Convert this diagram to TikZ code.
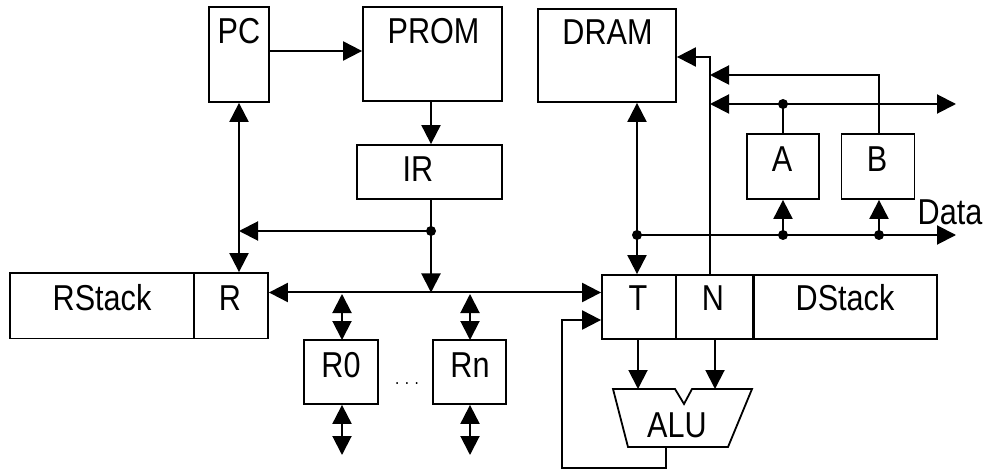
\documentclass[tikz,border=0pt]{standalone}
\usepackage{fontspec}
\setmainfont[FakeStretch=0.85]{Liberation Sans}
\usetikzlibrary{arrows.meta,calc}
\begin{document}
\begin{tikzpicture}[x=1pt,y=-1pt,
  box/.style={draw, line width=1.8pt, inner sep=0pt},
  lbl/.style={font=\fontsize{36}{40}\selectfont, inner sep=0pt, anchor=base},
  wire/.style={line width=2pt},
  arr/.style={wire, -{Triangle[length=19pt,width=19pt]}},
  darr/.style={wire, {Triangle[length=19pt,width=19pt]}-{Triangle[length=19pt,width=19pt]}},
  jdot/.style={circle, fill, inner sep=0pt, minimum size=10pt},
]
\useasboundingbox (0,0) rectangle (985,470);

% boxes
\node[box, minimum width=60pt, minimum height=95pt] (pc) at (239,54.5) {};
\node[box, minimum width=139pt, minimum height=94pt] (prom) at (432.5,54) {};
\node[box, minimum width=145pt, minimum height=54pt] (ir) at (429.5,172) {};
\node[box, minimum width=138pt, minimum height=93pt] (dram) at (607,55.5) {};
\node[box, minimum width=72pt, minimum height=65pt] (a) at (783,166.5) {};
\node[box, minimum width=73pt, minimum height=65pt] (b) at (878,166.5) {};
\node[box, minimum width=183.6pt, minimum height=65.5pt] (rstack) at (101.8,305.75) {};
\node[box, minimum width=74.4pt, minimum height=65.5pt] (r) at (230.8,305.75) {};
\node[box, minimum width=74pt, minimum height=64pt] (t) at (639,307) {};
\node[box, minimum width=77pt, minimum height=64pt] (n) at (714.5,307) {};
\node[box, minimum width=183pt, minimum height=64pt] (dstack) at (845.5,307) {};
\node[box, minimum width=74pt, minimum height=64pt] (r0) at (341,372) {};
\node[box, minimum width=73pt, minimum height=64pt] (rn) at (469.5,372) {};

% ALU trapezoid
\draw[line width=1.8pt] (613,389) -- (675,389) -- (684,404) -- (692,389) -- (752,389)
  -- (728,447) -- (628,447) -- cycle;
\coordinate (aluL) at (638,389);
\coordinate (aluR) at (715,389);
\coordinate (aluO) at (666,447);

% labels
\node[lbl] (tpc) at (239,44) {PC};
\node[lbl] (tprom) at (433.5,44) {PROM};
\node[lbl] (tdram) at (607.5,45) {DRAM};
\node[lbl] (tir) at (418,182) {IR};
\node[lbl] (ta) at (782,172) {A};
\node[lbl] (tb) at (877,172) {B};
\node[lbl] (trstack) at (102,310) {RStack};
\node[lbl] (tr) at (230,310) {R};
\node[lbl] (tt) at (638,310) {T};
\node[lbl] (tn) at (713,310) {N};
\node[lbl] (tdstack) at (845,311) {DStack};
\node[lbl] (tr0) at (341,377) {R0};
\node[lbl] (trn) at (470,377) {Rn};
\node[lbl] (talu) at (677,437) {ALU};
\node[lbl] (tdata) at (950,225) {Data};
\node[font=\fontsize{18}{20}\selectfont, inner sep=0pt, anchor=base] (dots) at (407,384) {.\hspace{5.5pt}.\hspace{5.5pt}.};

% junction coordinates
\coordinate (irdot) at (431,231);
\coordinate (busir) at (431,292.5);
\coordinate (ddot) at (637,235);
\coordinate (adot) at (783,235);
\coordinate (bdot) at (879,235);
\coordinate (atop) at (783,104);
\coordinate (dataend) at (956,235);
\coordinate (ctlL) at (710,104);
\coordinate (ctlR) at (956,104);
\coordinate (bturn) at (879,75);
\coordinate (bend) at (710,75);
\coordinate (nturn) at (710,57);
\coordinate (r0end) at (342,455);
\coordinate (rnend) at (470,455);
\coordinate (fb1) at (666,468);
\coordinate (fb2) at (562,468);
\coordinate (fb3) at (562,320);

% PC -> PROM -> IR
\draw[arr] (pc.east |- 0,51) -- (prom.west |- 0,51);
\draw[arr] (prom.south -| irdot) -- (ir.north -| irdot);
% IR down to bus
\draw[arr] (ir.south -| irdot) -- (busir);
\draw[arr] (irdot) -- (irdot -| pc.south);
\node[jdot] (irj) at (irdot) {};
% PC <-> R
\draw[darr] (pc.south) -- (pc.south |- r.north);
% bus R <-> T
\draw[darr] (r.east |- busir) -- (t.west |- busir);
% R0, Rn
\draw[darr] (342,294) -- (342,340);
\draw[darr] (r0.south -| r0end) -- (r0end);
\draw[darr] (470,294) -- (470,340);
\draw[darr] (rn.south -| rnend) -- (rnend);
% DRAM <-> T
\draw[darr] (dram.south -| ddot) -- (t.north -| ddot);
% data bus
\draw[arr] (ddot) -- (dataend);
\node[jdot] (dj) at (ddot) {};
\draw[arr] (adot) -- (a.south -| adot);
\node[jdot] (aj) at (adot) {};
\draw[arr] (bdot) -- (b.south -| bdot);
\node[jdot] (bj) at (bdot) {};
% control lines
\draw[darr] (ctlL) -- (ctlR);
\draw[wire] (a.north -| atop) -- (atop);
\node[jdot] (atj) at (atop) {};
\draw[arr] (b.north -| bturn) -- (bturn) -- (bend);
\draw[arr] (n.north -| nturn) -- (nturn) -- (dram.east |- nturn);
% T, N -> ALU
\draw[arr] (t.south -| aluL) -- (aluL);
\draw[arr] (n.south -| aluR) -- (aluR);
% feedback
\draw[arr] (aluO) -- (fb1) -- (fb2) -- (fb3) -- (t.west |- fb3);
\end{tikzpicture}
\end{document}
